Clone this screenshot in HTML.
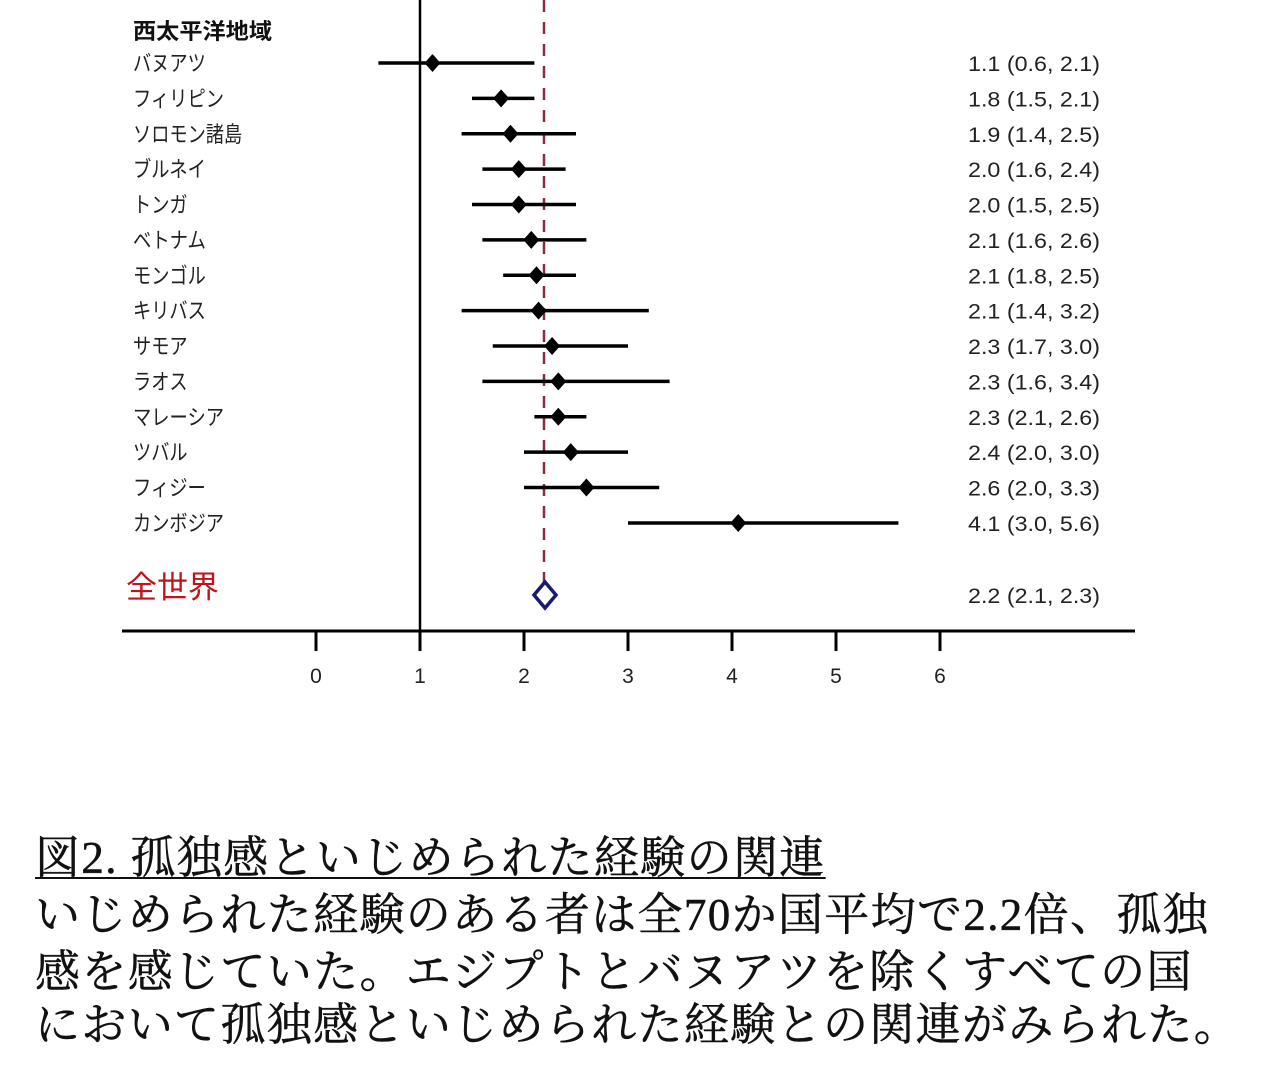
<!DOCTYPE html>
<html><head><meta charset="utf-8">
<style>
html,body{margin:0;padding:0;background:#fff;}
body{width:1278px;height:1075px;position:relative;overflow:hidden;}
.cap{position:absolute;left:35px;font-family:"Liberation Serif","Noto Serif CJK SC",serif;font-size:45px;color:#111;white-space:nowrap;line-height:1;letter-spacing:1.35px;-webkit-text-stroke:0.5px #111;}
</style></head>
<body>
<svg width="1278" height="800" style="position:absolute;left:0;top:0" xmlns="http://www.w3.org/2000/svg">
<line x1="544" y1="0" x2="544" y2="612" stroke="#8b2a3a" stroke-width="2.5" stroke-dasharray="12,10"/>
<line x1="420" y1="0" x2="420" y2="632" stroke="#000" stroke-width="2.5"/>
<line x1="122" y1="631" x2="1135" y2="631" stroke="#000" stroke-width="3"/>
<g stroke="#000" stroke-width="3">
<line x1="316" y1="631" x2="316" y2="651"/><line x1="420" y1="631" x2="420" y2="651"/>
<line x1="524" y1="631" x2="524" y2="651"/><line x1="628" y1="631" x2="628" y2="651"/>
<line x1="732" y1="631" x2="732" y2="651"/><line x1="836" y1="631" x2="836" y2="651"/>
<line x1="940" y1="631" x2="940" y2="651"/>
</g>
<g font-family="Liberation Sans, sans-serif" font-size="21" fill="#222" text-anchor="middle">
<text x="316" y="683">0</text><text x="420" y="683">1</text><text x="524" y="683">2</text><text x="628" y="683">3</text><text x="732" y="683">4</text><text x="836" y="683">5</text><text x="940" y="683">6</text>
</g>
<text x="133" y="39" font-family="Liberation Sans, Noto Sans CJK JP, sans-serif" font-size="22" font-weight="bold" fill="#111" textLength="139" lengthAdjust="spacingAndGlyphs">西太平洋地域</text>
<g id="rows" font-family="Liberation Sans, Noto Sans CJK JP, sans-serif" font-size="22" fill="#222"></g>
<text x="126" y="598" font-family="Liberation Sans, Noto Sans CJK JP, sans-serif" font-size="31" fill="#c0141c">全世界</text>
<polygon points="545,582 556,595 545,608 534,595" fill="#fff" stroke="#1a1a6e" stroke-width="3.5"/>
<text x="968" y="603" font-family="Liberation Sans, sans-serif" font-size="21" fill="#222" textLength="132" lengthAdjust="spacingAndGlyphs">2.2 (2.1, 2.3)</text>
</svg>
<div class="cap" style="top:836px;text-decoration:underline;text-decoration-thickness:2px;text-underline-offset:4px;">図2. 孤独感といじめられた経験の関連</div>
<div class="cap" style="top:893px;">いじめられた経験のある者は全70か国平均で2.2倍、孤独</div>
<div class="cap" style="top:950px;">感を感じていた。エジプトとバヌアツを除くすべての国</div>
<div class="cap" style="top:1003px;">において孤独感といじめられた経験との関連がみられた。</div>
<script>
var d=[["バヌアツ",1.1,0.6,2.1],["フィリピン",1.8,1.5,2.1],["ソロモン諸島",1.9,1.4,2.5],["ブルネイ",2.0,1.6,2.4],["トンガ",2.0,1.5,2.5],["ベトナム",2.1,1.6,2.6],["モンゴル",2.1,1.8,2.5],["キリバス",2.1,1.4,3.2],["サモア",2.3,1.7,3.0],["ラオス",2.3,1.6,3.4],["マレーシア",2.3,2.1,2.6],["ツバル",2.4,2.0,3.0],["フィジー",2.6,2.0,3.3],["カンボジア",4.1,3.0,5.6]];
var ex=[1.12,1.78,1.87,1.95,1.95,2.07,2.12,2.14,2.27,2.33,2.33,2.45,2.6,4.06];
var g=document.getElementById('rows'),h="";
function X(v){return 316+104*v;}
for(var i=0;i<d.length;i++){var y=63+i*35.38;var r=d[i];
var w=r[0].length*18.2;
h+='<text x="133" y="'+(y+8)+'" textLength="'+w+'" lengthAdjust="spacingAndGlyphs">'+r[0]+'</text>';
h+='<line x1="'+X(r[2])+'" y1="'+y+'" x2="'+X(r[3])+'" y2="'+y+'" stroke="#000" stroke-width="3.5"/>';
var cx=X(ex[i]);h+='<polygon points="'+cx+','+(y-9)+' '+(cx+8)+','+y+' '+cx+','+(y+9)+' '+(cx-8)+','+y+'" fill="#000"/>';
h+='<text x="968" y="'+(y+8)+'" font-family="Liberation Sans, sans-serif" font-size="21" textLength="132" lengthAdjust="spacingAndGlyphs">'+r[1].toFixed(1)+' ('+r[2].toFixed(1)+', '+r[3].toFixed(1)+')</text>';}
g.innerHTML=h;
</script>
</body></html>
